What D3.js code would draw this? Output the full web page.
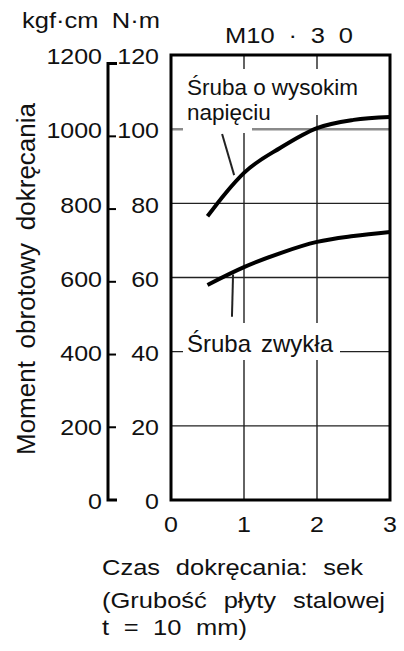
<!DOCTYPE html>
<html>
<head>
<meta charset="utf-8">
<script src="https://cdn.jsdelivr.net/npm/d3@7"></script>
<style>
  body { margin: 0; background: #fff; }
  text { font-family: "Liberation Sans", Arial, sans-serif; fill: #111; }
</style>
</head>
<body>
<div id="chart"></div>
<script>
const timeTicks = [0, 1, 2, 3]
const nmTicks = [0, 20, 40, 60, 80, 100, 120]
const kgfTicks = [0, 200, 400, 600, 800, 1000, 1200]
const gridNm = [20, 40, 60, 80, 100]
const gridTime = [1, 2]

// high tension bolt (N·m)
const timeHigh = [0.5, 0.75, 1, 1.5, 2, 2.5, 3]
const torqueHigh = [76.5, 82.8, 88.2, 95, 100.3, 102.5, 103.3]
// ordinary bolt (N·m)
const timeNormal = [0.5, 1, 1.5, 2, 2.5, 3]
const torqueNormal = [58, 62.8, 66.6, 69.6, 71.2, 72.3]

const KGFCM_TO_NM = 0.0980665

const W = 404, H = 651
const SQ = 0.85   // glyphs in the source are a bit flattened
const svg = d3.select("#chart").append("svg").attr("width", W).attr("height", H)

const x = d3.scaleLinear().domain([0, 3]).range([171, 390])
const y = d3.scaleLinear().domain([0, 120]).range([500, 55])
const yKgf = k => y(k * KGFCM_TO_NM)

// stretch the gaps between words so the line spans the given width
function fitWords(sel, target) {
    sel.each(function() {
        const n = this.getComputedTextLength()
        const gaps = this.textContent.split(" ").length - 1
        if (gaps > 0) d3.select(this).style("word-spacing", ((target - n) / gaps) + "px")
    })
}

// flattened text placed at (px, py)
function flatText(parent, str, px, py, size, anchor="start", baseline="auto") {
    return parent.append("text")
        .attr("transform", `translate(${px},${py}) scale(1,${SQ})`)
        .attr("font-size", size)
        .attr("text-anchor", anchor)
        .attr("dominant-baseline", baseline)
        .text(str)
}

/** grid */
const grid = svg.append("g")
grid.selectAll("line.h").data(gridNm).join("line")
    .attr("x1", x(0)).attr("x2", x(3))
    .attr("y1", d => y(d)).attr("y2", d => y(d))
    .attr("stroke", d => d === 100 ? "#8a8a8a" : "#222")
    .attr("stroke-width", d => d === 100 ? 2.5 : 1.4)
grid.selectAll("line.v").data(gridTime).join("line")
    .attr("x1", d => x(d)).attr("x2", d => x(d))
    .attr("y1", y(120)).attr("y2", y(0))
    .attr("stroke", "#222").attr("stroke-width", 1.4)

// white boxes behind the curve labels (break the grid)
const masks = [
    [183, 69, 180, 46],
    [183, 100, 69, 33],
    [183, 323, 157, 37]
]
svg.append("g").selectAll("rect").data(masks).join("rect")
    .attr("x", d => d[0]).attr("y", d => d[1])
    .attr("width", d => d[2]).attr("height", d => d[3])
    .attr("fill", "#fff")

/** curves */
const line = d3.line().x(d => x(d[0])).y(d => y(d[1])).curve(d3.curveMonotoneX)
const curves = [d3.zip(timeHigh, torqueHigh), d3.zip(timeNormal, torqueNormal)]
svg.append("g").selectAll("path").data(curves).join("path")
    .attr("d", line)
    .attr("fill", "none").attr("stroke", "#000").attr("stroke-width", 4)

// leader lines from labels to curves
const leaders = [
    [[0.70, 98.7], [0.865, 87.6]],
    [[0.85, 60.8], [0.835, 49.4]]
]
svg.append("g").selectAll("line").data(leaders).join("line")
    .attr("x1", d => x(d[0][0])).attr("y1", d => y(d[0][1]))
    .attr("x2", d => x(d[1][0])).attr("y2", d => y(d[1][1]))
    .attr("stroke", "#222").attr("stroke-width", 2)

/** frame */
svg.append("rect")
    .attr("x", x(0)).attr("y", y(120))
    .attr("width", x(3) - x(0)).attr("height", y(0) - y(120))
    .attr("fill", "none").attr("stroke", "#000").attr("stroke-width", 3)

/** kgf·cm axis */
const ax = 108
svg.append("path")
    .attr("d", `M${ax + 9},${yKgf(1200)} H${ax} V${y(0)} H${ax + 9}`)
    .attr("fill", "none").attr("stroke", "#000").attr("stroke-width", 3)
svg.append("g").selectAll("line").data(kgfTicks.slice(1, -1)).join("line")
    .attr("x1", ax).attr("x2", ax + 8)
    .attr("y1", d => yKgf(d)).attr("y2", d => yKgf(d))
    .attr("stroke", "#000").attr("stroke-width", 2)

const labels = svg.append("g")
kgfTicks.forEach(d => flatText(labels, d, 102, y(d / 10) + 2, 25, "end", "central"))
nmTicks.forEach(d => flatText(labels, d, 159, y(d) + 2, 25, "end", "central"))
timeTicks.forEach(d => flatText(labels, d, x(d), 532, 25, "middle"))

/** texts */
const outerTexts = [
    ["kgf·cm N·m", 22, 28, 138],
    ["M10 · 3 0", 225, 43, 128],
    ["Czas dokręcania: sek", 102, 575, 261],
    ["(Grubość płyty stalowej", 102, 608, 283],
    ["t = 10 mm)", 102, 635, 145]
]
outerTexts.forEach(t => flatText(svg, t[0], t[1], t[2], 25.5).call(fitWords, t[3]))

const curveLabels = [
    ["Śruba o wysokim", 187, 95, 171, 22.5],
    ["napięciu", 187, 120, 78, 22.5],
    ["Śruba zwykła", 187, 352, 146, 24]
]
curveLabels.forEach(t => {
    svg.append("text").attr("x", t[1]).attr("y", t[2])
        .attr("font-size", t[4]).text(t[0])
        .call(fitWords, t[3])
})

svg.append("text")
    .attr("transform", "translate(35,455) rotate(-90)")
    .attr("font-size", 26)
    .text("Moment obrotowy dokręcania")
    .call(fitWords, 352)
</script>
</body>
</html>
